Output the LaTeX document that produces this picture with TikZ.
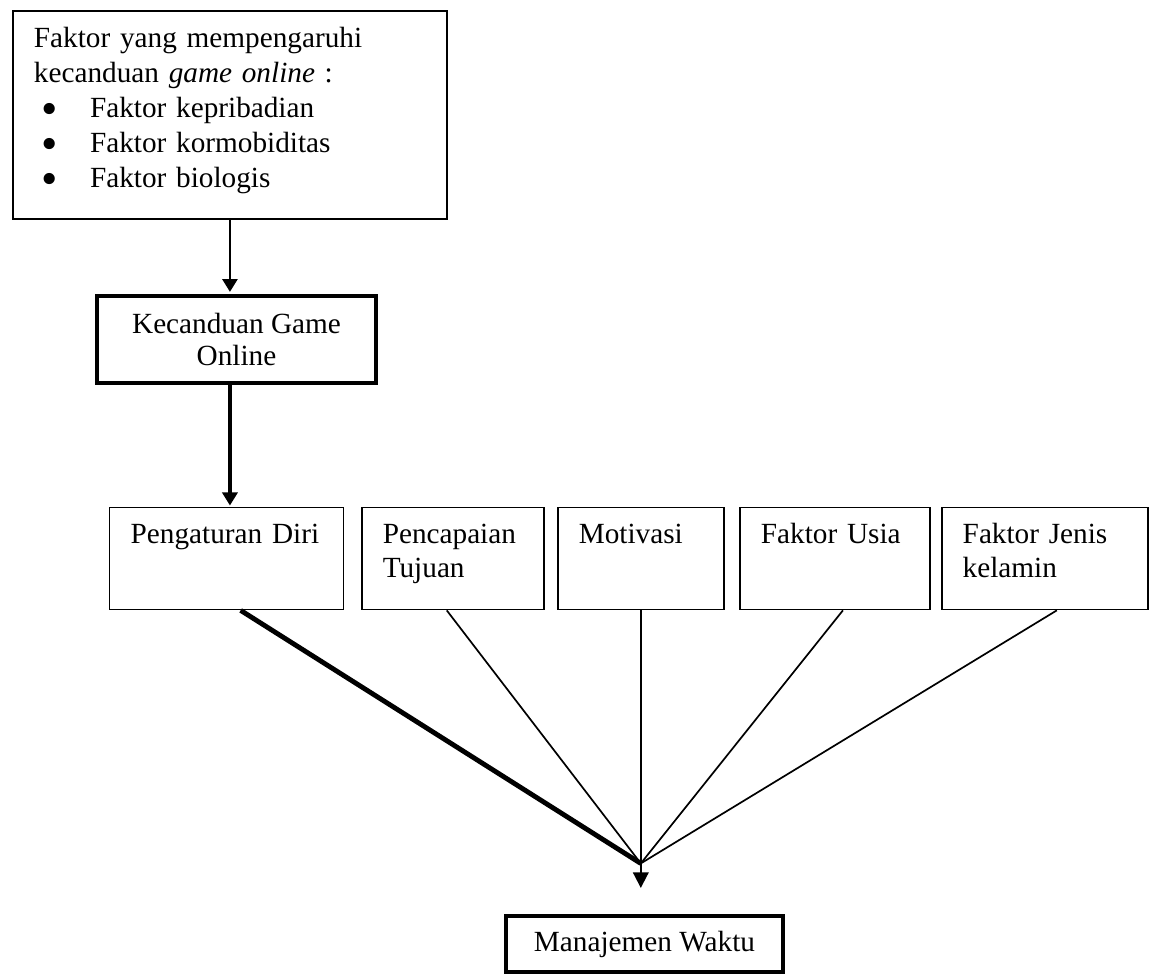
\documentclass[tikz,border=0pt]{standalone}
\usepackage{fontspec}
\setmainfont{Liberation Serif}
\usepackage{tikz}
\usetikzlibrary{arrows.meta, positioning}

\newcommand{\itemdot}{\hspace*{3.2pt}\makebox[19.8pt][l]{\smash{\raisebox{-2.6pt}{\scalebox{1.6}{\textbullet}}}}}

\begin{document}
\begin{tikzpicture}[
    x=0.4102pt, y=-0.4102pt,
    box/.style={
        rectangle,
        draw,
        line width=0.6pt,
        anchor=north west,
        align=left,
        inner xsep=8.6pt,
        inner ysep=6.6pt,
        text height=8.2pt,
        text depth=20.4pt,
        font=\fontsize{12pt}{14pt}\selectfont
    },
    heavy/.style={
        rectangle,
        draw,
        line width=1.8pt,
        align=center,
        inner sep=0pt,
        font=\fontsize{12pt}{13pt}\selectfont
    },
    arrow/.style={-{Triangle[width=6.2pt, length=5.2pt]}, line width=0.8pt},
    link/.style={line width=0.7pt}
]
\useasboundingbox (0,0) rectangle (1151,977);

% Causes
\node[box, line width=0.8pt, inner ysep=6.8pt, text width=160.8pt, text depth=63.5pt,
      font=\fontsize{12pt}{14.4pt}\selectfont] (factors) at (12,10)
    {Faktor yang mempengaruhi\\
     kecanduan \textit{game online} :\\
     \itemdot Faktor kepribadian\\
     \itemdot Faktor kormobiditas\\
     \itemdot Faktor biologis};

\node[heavy, minimum width=114.3pt, minimum height=35.5pt] (addict) at (236.5,339.5)
    {Kecanduan Game\\Online};

% Aspects
\node[box, text width=78.8pt] (diri) at (109,507) {Pengaturan Diri};
\node[box, text width=57.5pt, right=6.8pt of diri] (tujuan) {Pencapaian\\Tujuan};
\node[box, text width=50.9pt, right=5.1pt of tujuan] (motivasi) {Motivasi};
\node[box, text width=60.7pt, right=6.0pt of motivasi] (usia) {Faktor Usia};
\node[box, text width=67.4pt, right=4.3pt of usia] (jenis) {Faktor Jenis\\kelamin};

% Outcome
\node[heavy, minimum width=113.5pt, minimum height=22.8pt, font=\fontsize{12pt}{14pt}\selectfont]
    (waktu) at (644.5,944) {Manajemen Waktu};
\coordinate[below=103.8pt of motivasi.south] (meet);

\draw[arrow, shorten >=0.9pt] (factors.south) -- (factors.south |- addict.north);
\draw[arrow, line width=1.6pt, -{Triangle[width=6.2pt, length=5.4pt]}, shorten >=0.6pt]
    (factors.south |- addict.south) -- (factors.south |- diri.north);

\draw[link, line width=2pt] ([xshift=5.7pt]diri.south) -- (meet);
\draw[link] ([xshift=-2.5pt]tujuan.south) -- (meet);
\draw[link] (motivasi.south) -- (meet);
\draw[link] ([xshift=3.3pt]usia.south) -- (meet);
\draw[link] ([xshift=4.9pt]jenis.south) -- (meet);

\draw[arrow, -{Triangle[width=6.4pt, length=6.4pt]}, shorten >=10.7pt] (meet) -- (meet |- waktu.north);

\end{tikzpicture}
\end{document}
